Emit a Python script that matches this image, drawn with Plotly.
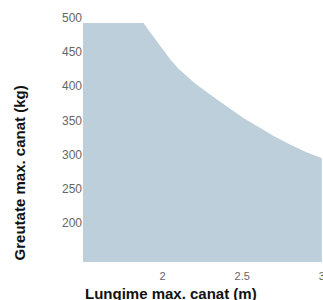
import plotly.graph_objects as go

length_m = [1.5, 1.88, 1.92, 1.96, 2.0, 2.05, 2.1, 2.2, 2.3, 2.4, 2.5, 2.6, 2.7, 2.8, 2.9, 3.0]
weight_kg = [500, 500, 487, 474, 462, 446, 433, 412, 395, 379, 362, 348, 334, 322, 311, 302]

x_ticks = [2, 2.5, 3]
y_ticks = [200, 250, 300, 350, 400, 450, 500]

fig = go.Figure()
fig.add_trace(go.Scatter(
    x=length_m, y=weight_kg, mode="lines", fill="tozeroy",
    line=dict(width=0, color="#bccfdb"),
    fillcolor="#bccfdb", hoverinfo="skip", showlegend=False,
))

font_fam = "Liberation Sans, Arial, sans-serif"
fig.update_layout(
    width=323, height=300,
    margin=dict(l=83, r=1, t=23, b=38),
    paper_bgcolor="white", plot_bgcolor="white",
    xaxis=dict(range=[1.5, 3.001], tickvals=x_ticks, ticktext=[str(v) for v in x_ticks],
               showgrid=False, zeroline=False, showline=False, ticks="", automargin=False,
               ticklabelstandoff=6, ticklabeloverflow="allow",
               tickfont=dict(family=font_fam, size=11, color="#666666")),
    yaxis=dict(range=[150, 500], tickvals=y_ticks, showgrid=False, zeroline=False,
               showline=False, ticks="", ticklabelshift=-5, ticklabelstandoff=0,
               automargin=False,
               tickfont=dict(family=font_fam, size=12, color="#666666")),
    annotations=[
        dict(text="<b>Lungime max. canat (m)</b>", xref="paper", yref="paper",
             x=0, y=-0.133, xanchor="left", yanchor="middle", showarrow=False,
             font=dict(family=font_fam, size=15, color="#111111")),
        dict(text="<b>Greutate max. canat (kg)</b>", xref="paper", yref="paper",
             x=-0.264, y=0, xanchor="center", yanchor="bottom", textangle=-90,
             showarrow=False, font=dict(family=font_fam, size=15, color="#111111")),
    ],
)

fig.write_html(
    "out.html",
    config={"displayModeBar": False},
    post_script="document.body.style.margin='0';document.body.style.overflow='hidden';"
                "document.documentElement.style.overflow='hidden';",
)
